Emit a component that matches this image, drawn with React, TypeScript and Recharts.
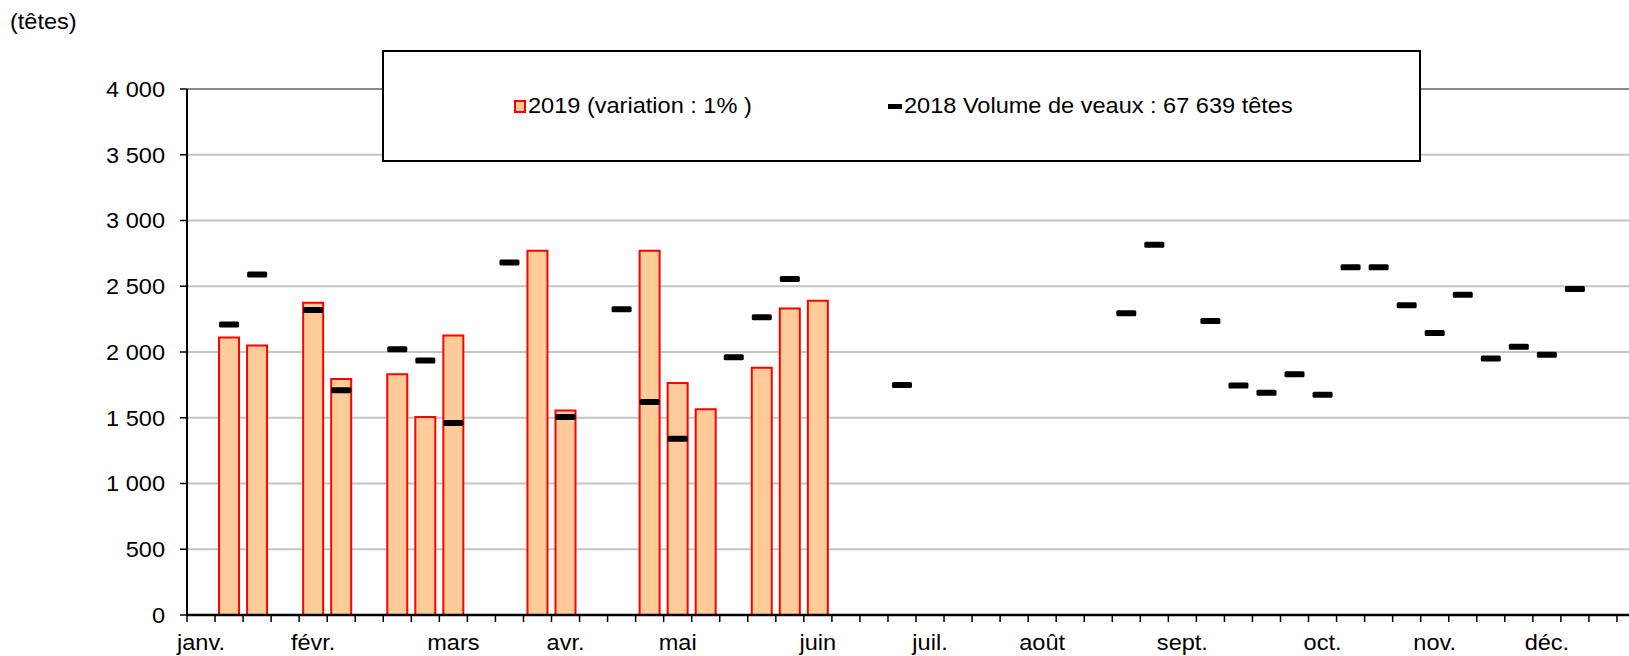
import { Bar, CartesianGrid, ComposedChart, Legend, Line, ReferenceLine, XAxis, YAxis } from "recharts";

const weeks = [
  1, 2, 3, 4, 5, 6, 7, 8, 9, 10, 11, 12, 13, 14, 15, 16, 17, 18, 19, 20, 21, 22, 23, 24, 25, 26,
  27, 28, 29, 30, 31, 32, 33, 34, 35, 36, 37, 38, 39, 40, 41, 42, 43, 44, 45, 46, 47, 48, 49, 50, 51, 52,
];
const monthLabels = ["janv.", "févr.", "mars", "avr.", "mai", "juin", "juil.", "août", "sept.", "oct.", "nov.", "déc."];
const monthWeeks = [1, 5, 10, 14, 18, 23, 27, 31, 36, 41, 45, 49];
const yTicks = [0, 500, 1000, 1500, 2000, 2500, 3000, 3500, 4000];

// 2019 (bars), weeks 1..52
const volumes2019 = [
  null, 2110, 2050, null, 2375, 1795, null, 1830, 1505, 2125, null, null, 2770,
  1555, null, null, 2770, 1765, 1565, null, 1880, 2330, 2390, null, null, null,
  null, null, null, null, null, null, null, null, null, null, null, null, null,
  null, null, null, null, null, null, null, null, null, null, null, null, null,
];
// 2018 (dashes)
const volumes2018 = [
  null, 2210, 2590, null, 2320, 1710, null, 2020, 1935, 1460, null, 2680, null,
  1505, null, 2325, 1620, 1340, null, 1960, 2265, 2555, null, null, null, 1750,
  null, null, null, null, null, null, null, 2295, 2815, null, 2235, 1745, 1690,
  1830, 1675, 2645, 2645, 2355, 2145, 2435, 1950, 2040, 1980, 2480, null, null,
];

const FONT = '"Liberation Sans", Arial, sans-serif';
const STRETCH = 1.07;

const chartData = weeks.map((week, i) => ({
  week,
  v2019: volumes2019[i],
  v2018: volumes2018[i],
}));

const formatThousands = (v: number) =>
  v >= 1000 ? `${Math.floor(v / 1000)} ${String(v % 1000).padStart(3, "0")}` : String(v);

function MonthTick({ x, y, payload }: any) {
  const half = payload.offset || 14;
  const idx = monthWeeks.indexOf(payload.value);
  return (
    <g>
      <line x1={x - half} x2={x - half} y1={y} y2={y + 7} stroke="#000" strokeWidth={1.5} />
      {idx >= 0 && (
        <text
          transform={`translate(${x},${y + 35}) scale(${STRETCH},1)`}
          textAnchor="middle"
          fontFamily={FONT}
          fontSize={22}
          fill="#000"
        >
          {monthLabels[idx]}
        </text>
      )}
    </g>
  );
}

function VolumeTick({ x, y, payload }: any) {
  return (
    <text
      transform={`translate(${x},${y}) scale(${STRETCH},1)`}
      dy="0.355em"
      textAnchor="end"
      fontFamily={FONT}
      fontSize={22}
      fill="#000"
    >
      {formatThousands(payload.value)}
    </text>
  );
}

function DashDot(props: any) {
  const { cx, cy, index, value } = props;
  if (value == null || cx == null || cy == null) return <g key={`d-${index}`} />;
  return <rect key={`d-${index}`} x={cx - 10} y={cy - 3} width={20} height={6} rx={1.5} fill="#000" />;
}

function LegendBox() {
  const textStyle: any = {
    display: "inline-block",
    transform: `scaleX(${STRETCH})`,
    transformOrigin: "left center",
    whiteSpace: "nowrap",
  };
  const row: any = { position: "absolute", top: 0, height: "100%", display: "flex", alignItems: "center" };
  return (
    <div
      style={{
        position: "relative",
        width: 1039,
        height: 112,
        boxSizing: "border-box",
        border: "2px solid #000",
        background: "#fff",
        fontFamily: FONT,
        fontSize: 22,
        color: "#000",
      }}
    >
      <div style={{ ...row, left: 130 }}>
        <span
          style={{ width: 12, height: 13, boxSizing: "border-box", border: "2px solid #f00", background: "#FFCC99", marginRight: 2 }}
        />
        <span style={textStyle}>2019 (variation : 1% )</span>
      </div>
      <div style={{ ...row, left: 504 }}>
        <span style={{ width: 14, height: 5, background: "#000", marginRight: 2 }} />
        <span style={textStyle}>2018 Volume de veaux : 67 639 têtes</span>
      </div>
    </div>
  );
}

export default function App() {
  return (
    <div style={{ position: "absolute", left: 0, top: 0, width: 1629, height: 656, overflow: "hidden", background: "#fff" }}>
      <ComposedChart width={1650} height={656} data={chartData} margin={{ top: 89, right: 5, bottom: 0, left: 0 }}>
        <CartesianGrid vertical={false} stroke="#C4C4C4" strokeWidth={2} />
        <ReferenceLine y={4000} stroke="#8a8a8a" strokeWidth={2} />
        <XAxis
          dataKey="week"
          type="category"
          interval={0}
          height={41}
          tickSize={0}
          tickMargin={0}
          tickLine={false}
          axisLine={{ stroke: "#000", strokeWidth: 2.5 }}
          tick={<MonthTick />}
        />
        <YAxis
          width={187}
          domain={[0, 4000]}
          ticks={yTicks}
          interval={0}
          tickSize={7}
          tickMargin={15}
          tickLine={{ stroke: "#000", strokeWidth: 1.5 }}
          axisLine={{ stroke: "#000", strokeWidth: 2 }}
          tick={<VolumeTick />}
          label={{
            content: () => (
              <text transform={`translate(10,29) scale(${STRETCH},1)`} fontFamily={FONT} fontSize={22} fill="#000">
                (têtes)
              </text>
            ),
          }}
        />
        <Bar dataKey="v2019" fill="#FFCC99" stroke="#FF0000" strokeWidth={2} barSize={20} isAnimationActive={false} />
        <Line
          dataKey="v2018"
          stroke="none"
          dot={DashDot}
          activeDot={false}
          legendType="none"
          isAnimationActive={false}
        />
        <Legend
          layout="horizontal"
          verticalAlign="middle"
          align="center"
          wrapperStyle={{ left: 382, top: 50, width: 1039, height: 112 }}
          content={() => <LegendBox />}
        />
      </ComposedChart>
    </div>
  );
}
